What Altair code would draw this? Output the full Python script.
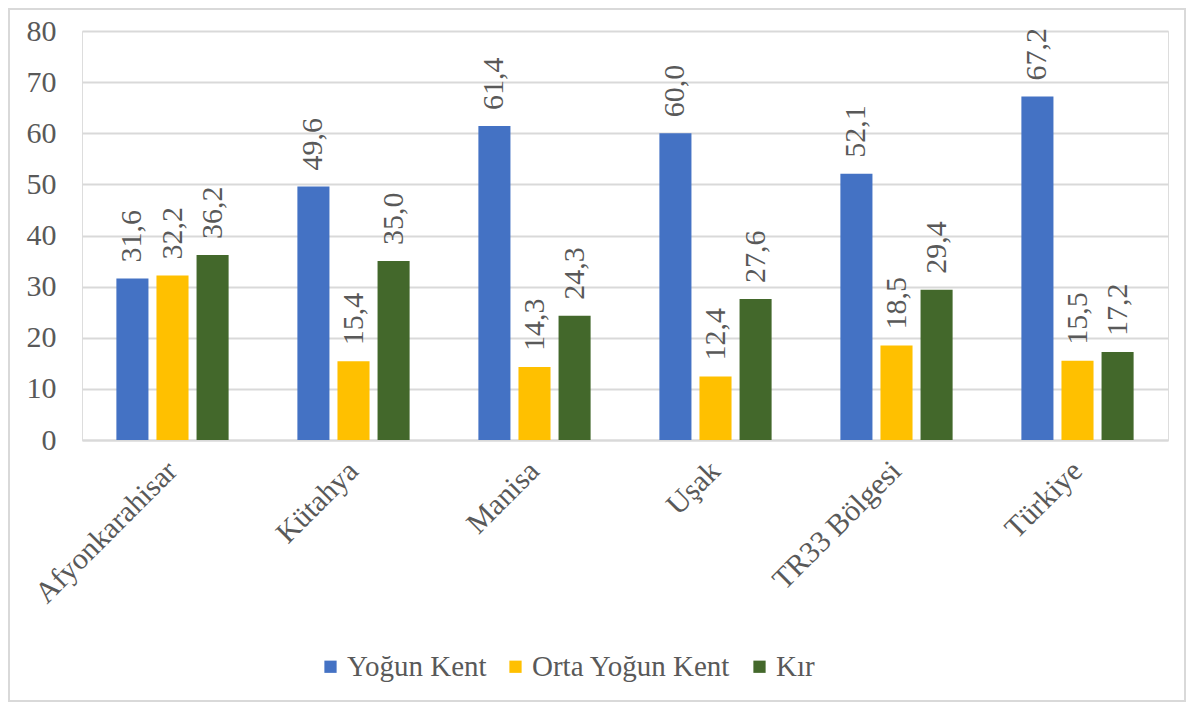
import altair as alt
import pandas as pd

categories = ["Afyonkarahisar", "Kütahya", "Manisa", "Uşak", "TR33 Bölgesi", "Türkiye"]
series = ["Yoğun Kent", "Orta Yoğun Kent", "Kır"]
yogun_kent = [31.6, 49.6, 61.4, 60.0, 52.1, 67.2]
orta_yogun_kent = [32.2, 15.4, 14.3, 12.4, 18.5, 15.5]
kir = [36.2, 35.0, 24.3, 27.6, 29.4, 17.2]
colors = ["#4472C4", "#FFC000", "#43682B"]
y_ticks = [0, 10, 20, 30, 40, 50, 60, 70, 80]

rows = []
for s, vals in zip(series, [yogun_kent, orta_yogun_kent, kir]):
    for c, v in zip(categories, vals):
        rows.append({"Bölge": c, "Seri": s, "Değer": v})
df = pd.DataFrame(rows)

FONT = "Liberation Serif"
TXT = "#595959"
GRID = "#D9D9D9"

base = alt.Chart(df).encode(
    x=alt.X("Bölge:N", sort=categories,
            scale=alt.Scale(paddingInner=0.38, paddingOuter=0.19),
            axis=alt.Axis(title=None, labelAngle=-45, labelAlign="right",
                          labelBaseline="middle", labelPadding=26, labelLimit=500,
                          labelFontSize=30, labelFont=FONT, labelColor=TXT,
                          ticks=False, domainColor=GRID, domainWidth=2)),
    xOffset=alt.XOffset("Seri:N", sort=series,
                        scale=alt.Scale(paddingInner=0.2, paddingOuter=0)),
    y=alt.Y("Değer:Q", scale=alt.Scale(domain=[0, 80]),
            axis=alt.Axis(title=None, values=y_ticks, labelFontSize=30,
                          labelFont=FONT, labelColor=TXT, labelPadding=26,
                          ticks=False, domain=False, gridColor=GRID,
                          gridWidth=2)),
)

bars = base.mark_bar().encode(
    color=alt.Color("Seri:N", sort=series,
                    scale=alt.Scale(domain=series, range=colors),
                    legend=alt.Legend(title=None, orient="none", direction="horizontal",
                                      legendX=234, legendY=621, padding=0,
                                      symbolType="square", symbolSize=150,
                                      symbolStrokeWidth=0, labelLimit=500,
                                      labelFontSize=29, labelFont=FONT,
                                      labelColor=TXT, labelOffset=2,
                                      columnPadding=14))
)

labels = base.mark_text(angle=270, align="left", baseline="middle", dx=16,
                        fontSize=30, font=FONT, color=TXT).transform_calculate(
    lab="replace(format(datum['Değer'], '.1f'), '.', ',')"
).encode(text="lab:N")

frame = alt.Chart(pd.DataFrame({"k": [0]})).mark_rect(
    fill=None, stroke=GRID, strokeWidth=2
).encode(x=alt.value(-73), x2=alt.value(1103), y=alt.value(-22), y2=alt.value(670))

chart = alt.layer(frame, bars, labels).properties(
    width=1086, height=409,
    autosize=alt.AutoSizeParams(type="none"),
    padding={"left": 74, "top": 23, "right": 20, "bottom": 262},
).configure_view(stroke=None).configure(background="white")

chart.save("out.html", embed_options={"renderer": "svg", "actions": False})
